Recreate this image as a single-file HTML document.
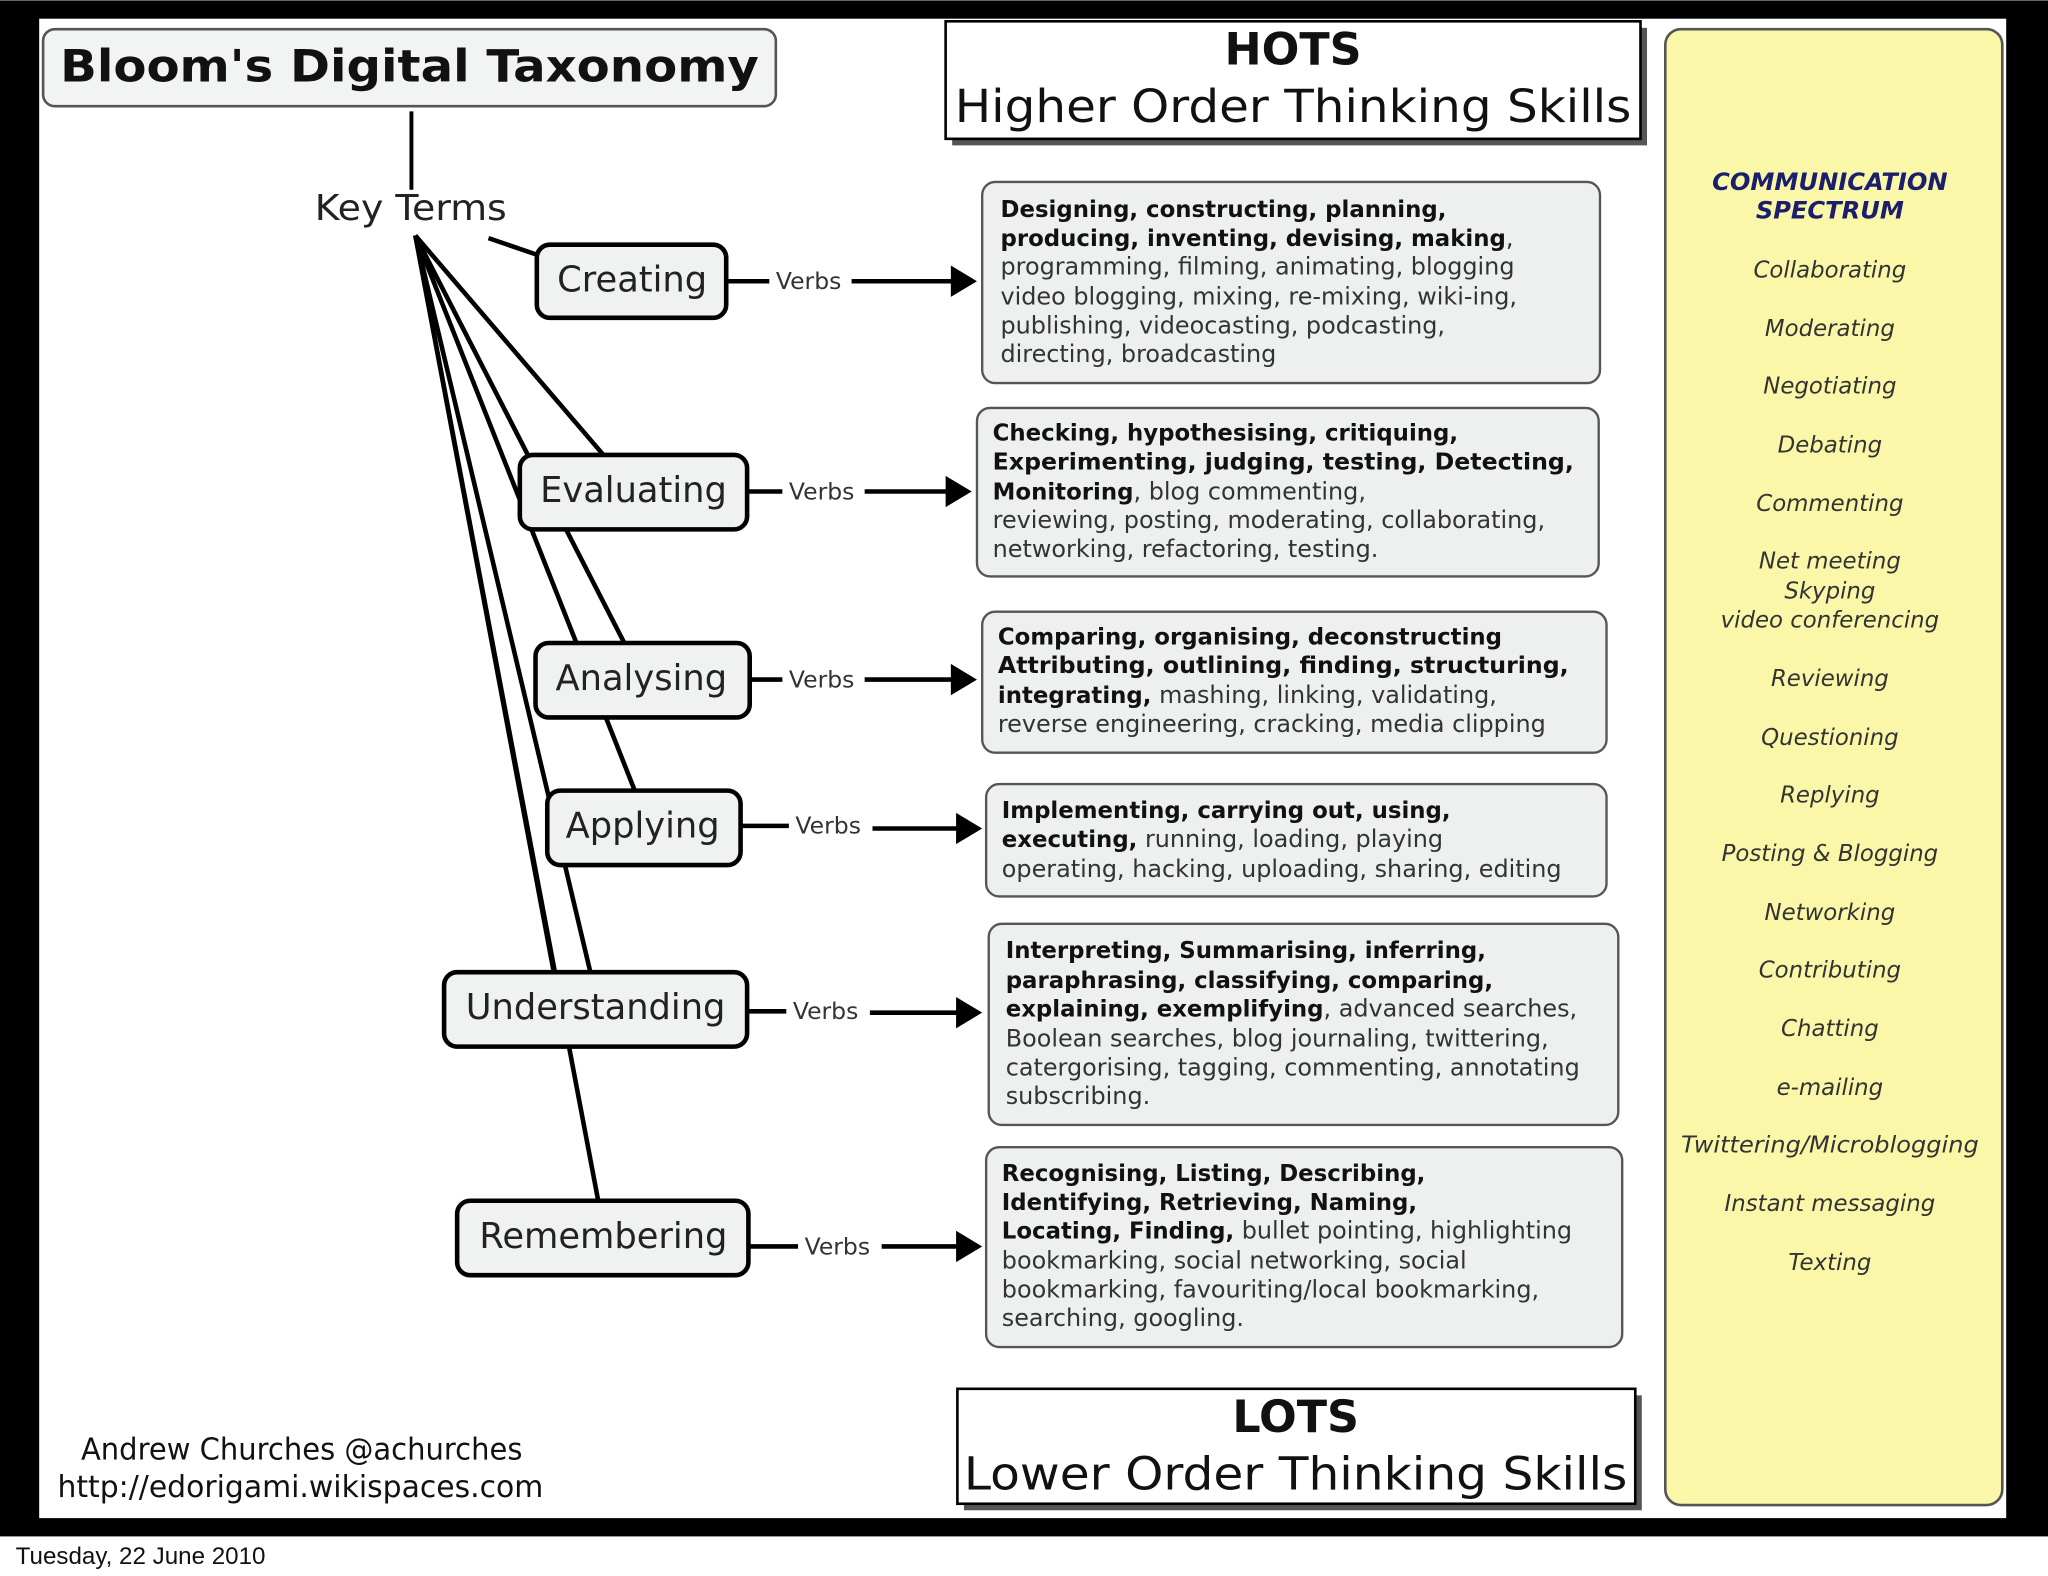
<!DOCTYPE html>
<html><head><meta charset="utf-8"><style>
html,body{margin:0;padding:0;background:#fff;}
svg{display:block;}
text{font-family:"DejaVu Sans","Liberation Sans",sans-serif;}
.b{font-weight:bold;fill:#111;font-size:17.5px;}
.n{fill:#333;font-size:18.3px;}
</style></head><body>
<svg width="2048" height="1576" viewBox="0 0 1568 1206" xmlns="http://www.w3.org/2000/svg">
<rect x="0" y="0" width="1568" height="1206" fill="#fff"/>
<rect x="0" y="0" width="1568" height="1176" fill="#000"/>
<rect x="30" y="14" width="1506" height="1148" fill="#fff"/>
<text x="12" y="1197" font-size="18.5" style="font-family:'Liberation Sans',sans-serif" fill="#111">Tuesday, 22 June 2010</text>

<rect x="33" y="22" width="561" height="59" rx="9" fill="#f2f3f3" stroke="#555" stroke-width="2"/>
<text x="46" y="62" font-size="34" font-weight="bold" fill="#111" textLength="535" lengthAdjust="spacingAndGlyphs">Bloom's Digital Taxonomy</text>
<line x1="315" y1="85" x2="315" y2="145" stroke="#000" stroke-width="3"/>
<text x="241" y="168" font-size="27" fill="#222" textLength="147" lengthAdjust="spacingAndGlyphs">Key Terms</text>

<rect x="729" y="21" width="532" height="90" fill="#555"/>
<rect x="724" y="16" width="532" height="90" fill="#fff" stroke="#000" stroke-width="2"/>
<text x="990" y="49" font-size="34" font-weight="bold" text-anchor="middle" fill="#111">HOTS</text>
<text x="731" y="93" font-size="35" fill="#111" textLength="518" lengthAdjust="spacingAndGlyphs">Higher Order Thinking Skills</text>
<rect x="738" y="1068" width="519" height="88" fill="#555"/>
<rect x="733" y="1063" width="519" height="88" fill="#fff" stroke="#000" stroke-width="2"/>
<text x="992" y="1096" font-size="34" font-weight="bold" text-anchor="middle" fill="#111">LOTS</text>
<text x="738" y="1140" font-size="35" fill="#111" textLength="508" lengthAdjust="spacingAndGlyphs">Lower Order Thinking Skills</text>

<rect x="1275" y="22" width="258" height="1130" rx="12" fill="#fbf7a8" stroke="#555" stroke-width="2"/>
<g font-style="italic" text-anchor="middle" font-size="17.5" fill="#333">
<text x="1401" y="145" font-weight="bold" fill="#1b1f6b" font-size="18.5">COMMUNICATION</text>
<text x="1401" y="167" font-weight="bold" fill="#1b1f6b" font-size="18.5">SPECTRUM</text>
<text x="1401" y="212">Collaborating</text>
<text x="1401" y="257">Moderating</text>
<text x="1401" y="301">Negotiating</text>
<text x="1401" y="346">Debating</text>
<text x="1401" y="391">Commenting</text>
<text x="1401" y="435">Net meeting</text>
<text x="1401" y="458">Skyping</text>
<text x="1401" y="480">video conferencing</text>
<text x="1401" y="525">Reviewing</text>
<text x="1401" y="570">Questioning</text>
<text x="1401" y="614">Replying</text>
<text x="1401" y="659">Posting &amp; Blogging</text>
<text x="1401" y="704">Networking</text>
<text x="1401" y="748">Contributing</text>
<text x="1401" y="793">Chatting</text>
<text x="1401" y="838">e-mailing</text>
<text x="1401" y="882" textLength="228" lengthAdjust="spacingAndGlyphs">Twittering/Microblogging</text>
<text x="1401" y="927">Instant messaging</text>
<text x="1401" y="972">Texting</text>
</g>

<g stroke="#000" stroke-width="3.5">
<line x1="374" y1="182" x2="412" y2="195"/>
<line x1="318" y1="180" x2="462" y2="348"/>
<line x1="318" y1="180" x2="478" y2="492"/>
<line x1="318" y1="180" x2="486" y2="605"/>
<line x1="318" y1="180" x2="424" y2="744"/>
<line x1="318" y1="180" x2="458" y2="919"/>
<line x1="318" y1="180" x2="452" y2="744"/>
</g>

<g fill="#f0f2f2" stroke="#000" stroke-width="3.5">
<rect x="411" y="187" width="145" height="56" rx="10"/>
<rect x="398" y="348" width="174" height="57" rx="10"/>
<rect x="410" y="492" width="164" height="57" rx="10"/>
<rect x="419" y="605" width="148" height="57" rx="10"/>
<rect x="340" y="744" width="232" height="57" rx="10"/>
<rect x="350" y="919" width="223" height="57" rx="10"/>
</g>
<g font-size="27" text-anchor="middle" fill="#222">
<text x="484" y="223">Creating</text>
<text x="485" y="384">Evaluating</text>
<text x="491" y="528">Analysing</text>
<text x="492" y="641">Applying</text>
<text x="456" y="780">Understanding</text>
<text x="462" y="955">Remembering</text>
</g>

<g stroke="#000" stroke-width="3.5">
<line x1="556" y1="215" x2="589" y2="215"/><line x1="652" y1="215" x2="732" y2="215"/>
<line x1="572" y1="376" x2="599" y2="376"/><line x1="662" y1="376" x2="728" y2="376"/>
<line x1="574" y1="520" x2="599" y2="520"/><line x1="662" y1="520" x2="732" y2="520"/>
<line x1="567" y1="632" x2="604" y2="632"/><line x1="668" y1="634" x2="736" y2="634"/>
<line x1="572" y1="774" x2="602" y2="774"/><line x1="666" y1="775" x2="736" y2="775"/>
<line x1="573" y1="954" x2="611" y2="954"/><line x1="675" y1="954" x2="736" y2="954"/>
</g>
<g fill="#000">
<polygon points="748,215 728,203 728,227"/>
<polygon points="744,376 724,364 724,388"/>
<polygon points="748,520 728,508 728,532"/>
<polygon points="752,634 732,622 732,646"/>
<polygon points="752,775 732,763 732,787"/>
<polygon points="752,954 732,942 732,966"/>
</g>
<g font-size="18" fill="#333">
<text x="594" y="221">Verbs</text>
<text x="604" y="382">Verbs</text>
<text x="604" y="526">Verbs</text>
<text x="609" y="638">Verbs</text>
<text x="607" y="780">Verbs</text>
<text x="616" y="960">Verbs</text>
</g>

<g fill="#eef0f0" stroke="#555" stroke-width="1.8">
<rect x="752" y="139" width="473" height="154" rx="10"/>
<rect x="748" y="312" width="476" height="129" rx="10"/>
<rect x="752" y="468" width="478" height="108" rx="10"/>
<rect x="755" y="600" width="475" height="86" rx="10"/>
<rect x="757" y="707" width="482" height="154" rx="10"/>
<rect x="755" y="878" width="487" height="153" rx="10"/>
</g>
<g>
<text x="766" y="166" class="b">Designing, constructing, planning,</text>
<text x="766" y="188"><tspan class="b">producing, inventing, devising, making</tspan><tspan class="n">,</tspan></text>
<text x="766" y="210" class="n">programming, filming, animating, blogging</text>
<text x="766" y="233" class="n">video blogging, mixing, re-mixing, wiki-ing,</text>
<text x="766" y="255" class="n">publishing, videocasting, podcasting,</text>
<text x="766" y="277" class="n">directing, broadcasting</text>

<text x="760" y="337" class="b">Checking, hypothesising, critiquing,</text>
<text x="760" y="359" class="b" textLength="445" lengthAdjust="spacingAndGlyphs">Experimenting, judging, testing, Detecting,</text>
<text x="760" y="382"><tspan class="b">Monitoring</tspan><tspan class="n">, blog commenting,</tspan></text>
<text x="760" y="404" class="n">reviewing, posting, moderating, collaborating,</text>
<text x="760" y="426" class="n">networking, refactoring, testing.</text>

<text x="764" y="493" class="b">Comparing, organising, deconstructing</text>
<text x="764" y="515" class="b" textLength="437" lengthAdjust="spacingAndGlyphs">Attributing, outlining, finding, structuring,</text>
<text x="764" y="538"><tspan class="b">integrating,</tspan><tspan class="n"> mashing, linking, validating,</tspan></text>
<text x="764" y="560" class="n">reverse engineering, cracking, media clipping</text>

<text x="767" y="626" class="b">Implementing, carrying out, using,</text>
<text x="767" y="648"><tspan class="b">executing,</tspan><tspan class="n"> running, loading, playing</tspan></text>
<text x="767" y="671" class="n">operating, hacking, uploading, sharing, editing</text>

<text x="770" y="733" class="b">Interpreting, Summarising, inferring,</text>
<text x="770" y="756" class="b">paraphrasing, classifying, comparing,</text>
<text x="770" y="778"><tspan class="b">explaining, exemplifying</tspan><tspan class="n">, advanced searches,</tspan></text>
<text x="770" y="801" class="n">Boolean searches, blog journaling, twittering,</text>
<text x="770" y="823" class="n">catergorising, tagging, commenting, annotating</text>
<text x="770" y="845" class="n">subscribing.</text>

<text x="767" y="904" class="b">Recognising, Listing, Describing,</text>
<text x="767" y="926" class="b">Identifying, Retrieving, Naming,</text>
<text x="767" y="948"><tspan class="b">Locating, Finding,</tspan><tspan class="n"> bullet pointing, highlighting</tspan></text>
<text x="767" y="971" class="n">bookmarking, social networking, social</text>
<text x="767" y="993" class="n">bookmarking, favouriting/local bookmarking,</text>
<text x="767" y="1015" class="n">searching, googling.</text>
</g>

<text x="62" y="1117" font-size="23" fill="#111" textLength="338" lengthAdjust="spacingAndGlyphs">Andrew Churches @achurches</text>
<text x="44" y="1146" font-size="23" fill="#111" textLength="372" lengthAdjust="spacingAndGlyphs">http://edorigami.wikispaces.com</text>
</svg>
</body></html>
